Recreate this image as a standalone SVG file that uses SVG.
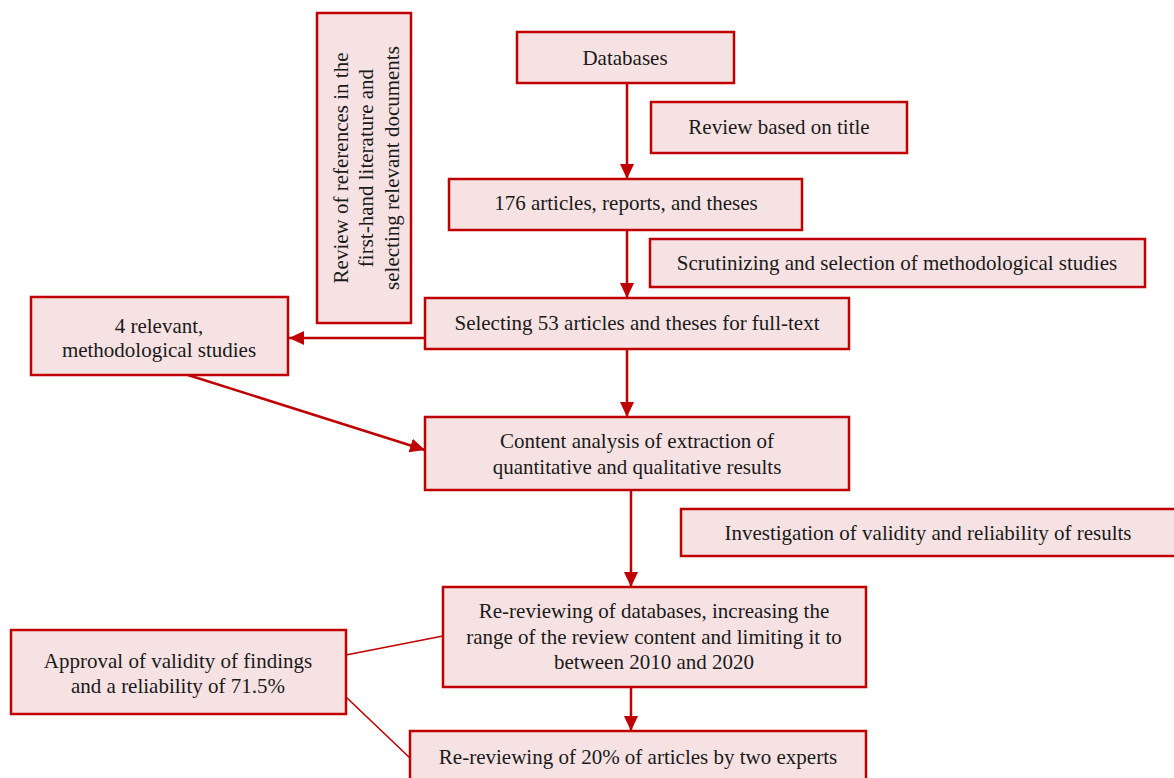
<svg xmlns="http://www.w3.org/2000/svg" width="1174" height="778" viewBox="0 0 1174 778">
<style>
.box{fill:#F6E2E3;stroke:#C00000;stroke-width:2.5}
.t{font-family:"Liberation Serif","Times New Roman",serif;font-size:21px;fill:#1a1a1a;text-anchor:middle}
.arr{stroke:#C00000;stroke-width:2.5;fill:none}
.thin{stroke:#C00000;stroke-width:1.6;fill:none}
</style>
<defs>
<marker id="ah" markerUnits="userSpaceOnUse" markerWidth="16" markerHeight="16" refX="15" refY="8" orient="auto">
<path d="M0,1 L15,8 L0,15 z" fill="#C00000"/>
</marker>
</defs>
<rect width="1174" height="778" fill="#ffffff"/>
<g id="connectors">
<line class="arr" x1="627" y1="83" x2="627" y2="179" marker-end="url(#ah)"/>
<line class="arr" x1="627" y1="230" x2="627" y2="298" marker-end="url(#ah)"/>
<line class="arr" x1="627" y1="349" x2="627" y2="417" marker-end="url(#ah)"/>
<line class="arr" x1="631" y1="490" x2="631" y2="587" marker-end="url(#ah)"/>
<line class="arr" x1="631" y1="687" x2="631" y2="731" marker-end="url(#ah)"/>
<line class="arr" x1="425" y1="338" x2="289" y2="338" marker-end="url(#ah)"/>
<line class="arr" x1="188" y1="375" x2="425" y2="450" marker-end="url(#ah)"/>
<line class="thin" x1="346" y1="655" x2="443" y2="636"/>
<line class="thin" x1="346" y1="697" x2="410" y2="758"/>
</g>
<g id="n-review-refs">
<rect class="box" x="317" y="13" width="94" height="310"/>
<g transform="translate(366,168) rotate(-90)">
<text class="t" x="0" y="-18">Review of references in the</text>
<text class="t" x="0" y="7">first-hand literature and</text>
<text class="t" x="0" y="33">selecting relevant documents</text>
</g>
</g>
<g id="n-databases">
<rect class="box" x="517" y="32" width="217" height="51"/>
<text class="t" x="625" y="65">Databases</text>
</g>
<g id="n-review-title">
<rect class="box" x="651" y="102" width="256" height="51"/>
<text class="t" x="779" y="134">Review based on title</text>
</g>
<g id="n-176">
<rect class="box" x="449" y="179" width="353" height="51"/>
<text class="t" x="626" y="210">176 articles, reports, and theses</text>
</g>
<g id="n-scrutinizing">
<rect class="box" x="650" y="239" width="495" height="48"/>
<text class="t" x="897" y="270">Scrutinizing and selection of methodological studies</text>
</g>
<g id="n-selecting">
<rect class="box" x="425" y="298" width="424" height="51"/>
<text class="t" x="637" y="330">Selecting 53 articles and theses for full-text</text>
</g>
<g id="n-4relevant">
<rect class="box" x="31" y="297" width="257" height="78"/>
<text class="t" x="159" y="333">4 relevant,</text>
<text class="t" x="159" y="357">methodological studies</text>
</g>
<g id="n-content">
<rect class="box" x="425" y="417" width="424" height="73"/>
<text class="t" x="637" y="448">Content analysis of extraction of</text>
<text class="t" x="637" y="474">quantitative and qualitative results</text>
</g>
<g id="n-investigation">
<rect class="box" x="681" y="509" width="500" height="47"/>
<text class="t" x="928" y="540">Investigation of validity and reliability of results</text>
</g>
<g id="n-rereview-db">
<rect class="box" x="443" y="587" width="423" height="100"/>
<text class="t" x="654" y="618">Re-reviewing of databases, increasing the</text>
<text class="t" x="654" y="644">range of the review content and limiting it to</text>
<text class="t" x="654" y="669">between 2010 and 2020</text>
</g>
<g id="n-approval">
<rect class="box" x="11" y="630" width="335" height="84"/>
<text class="t" x="178" y="668">Approval of validity of findings</text>
<text class="t" x="178" y="693">and a reliability of 71.5%</text>
</g>
<g id="n-rereview-20">
<rect class="box" x="410" y="731" width="456" height="60"/>
<text class="t" x="638" y="764">Re-reviewing of 20% of articles by two experts</text>
</g>
</svg>
